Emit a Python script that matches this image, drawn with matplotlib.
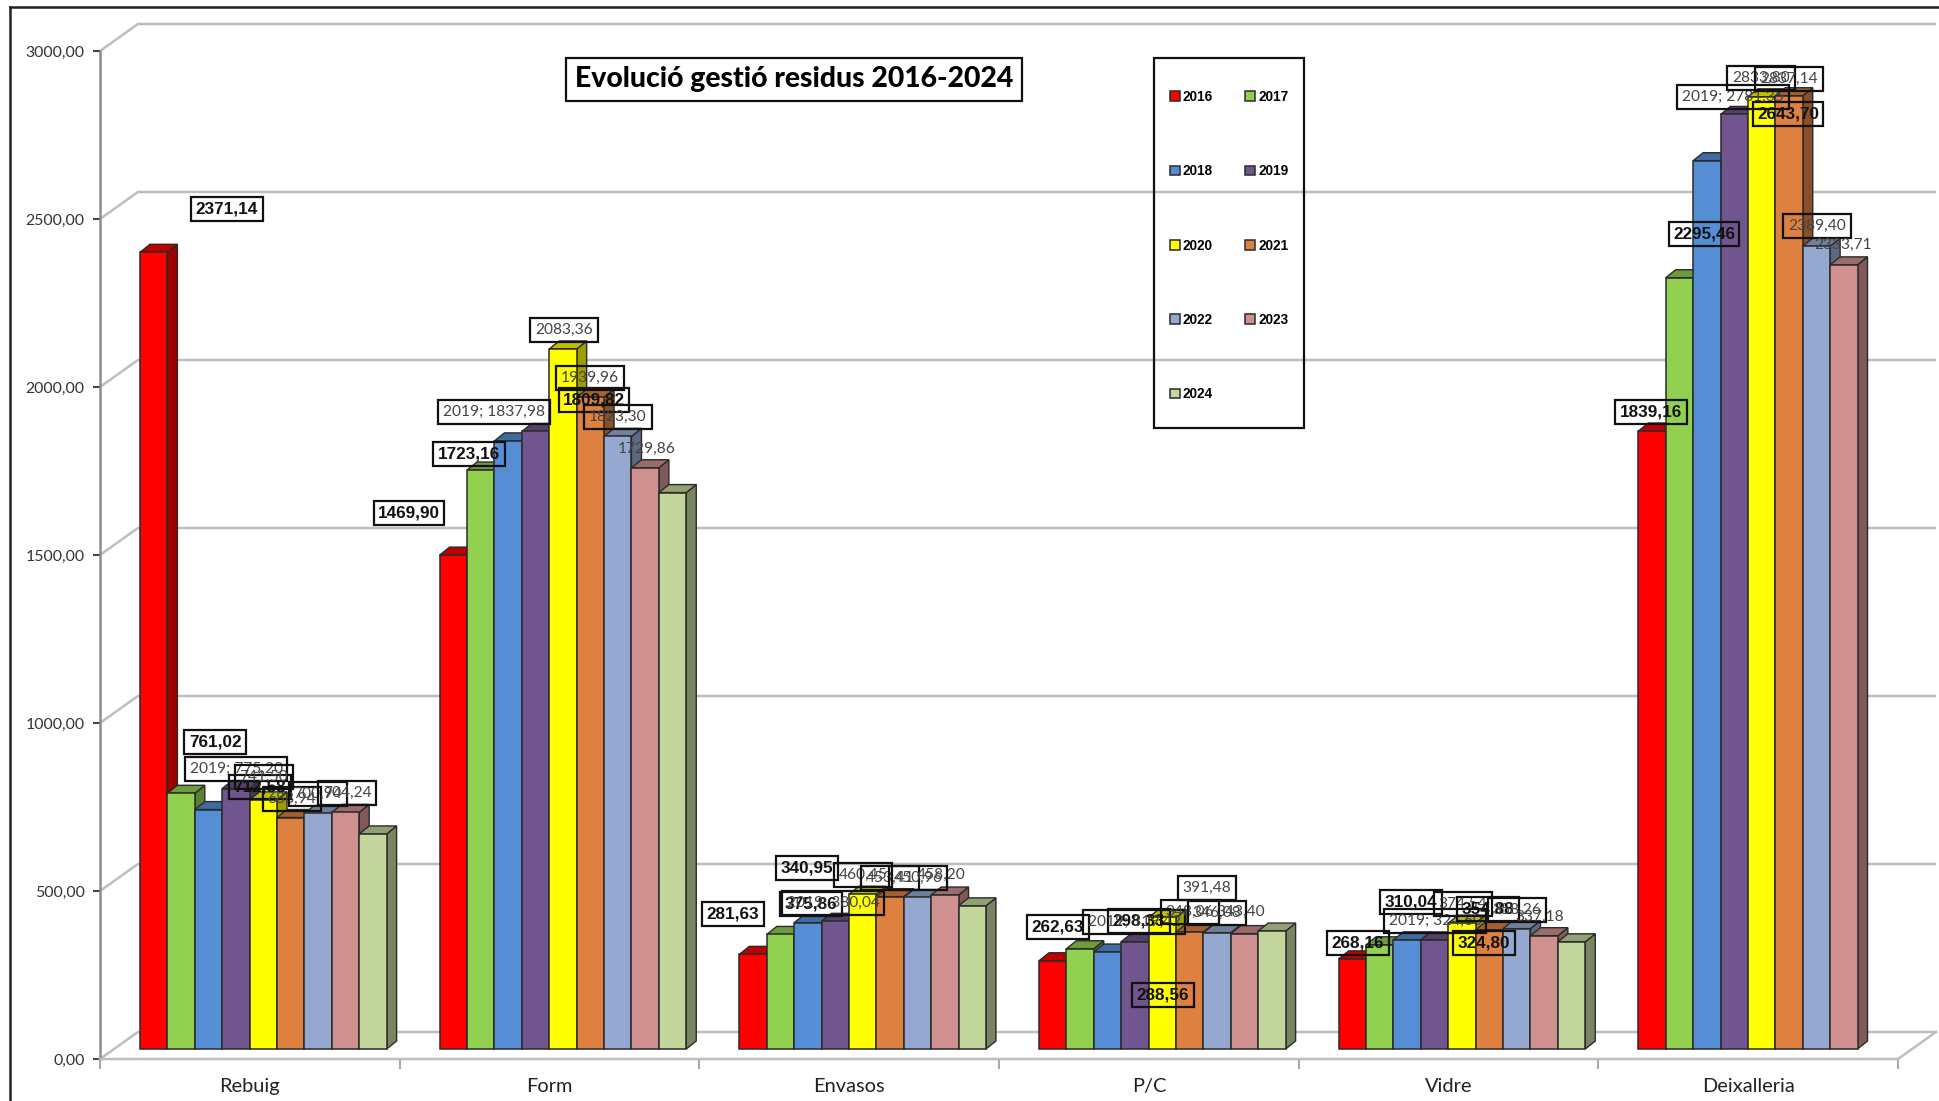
import matplotlib
matplotlib.use("Agg")
import matplotlib.pyplot as plt
from matplotlib.patches import Polygon, Rectangle
from matplotlib.lines import Line2D
from matplotlib.colors import to_rgb

W, H = 1939, 1101

categories = ["Rebuig", "Form", "Envasos", "P/C", "Vidre", "Deixalleria"]
years = ["2016", "2017", "2018", "2019", "2020", "2021", "2022", "2023", "2024"]

y2016 = [2371.14, 1469.90, 281.63, 262.63, 268.16, 1839.16]
y2017 = [761.02, 1723.16, 340.95, 298.33, 310.04, 2295.46]
y2018 = [712.58, 1809.82, 375.86, 288.56, 324.80, 2643.70]
y2019 = [775.20, 1837.98, 380.04, 319.42, 324.60, 2781.35]
y2020 = [741.50, 2083.36, 460.45, 391.48, 374.54, 2833.80]
y2021 = [688.94, 1939.96, 453.41, 348.06, 354.88, 2837.14]
y2022 = [700.94, 1823.30, 450.96, 346.08, 358.26, 2389.40]
y2023 = [704.24, 1729.86, 458.20, 343.40, 337.18, 2333.71]
y2024 = [640.00, 1656.00, 426.00, 351.00, 319.00, None]
series = [y2016, y2017, y2018, y2019, y2020, y2021, y2022, y2023, y2024]

colors = ["#FF0000", "#92D050", "#558ED5", "#71558F", "#FFFF00",
          "#DD8040", "#95A9D0", "#CF9090", "#C3D69B"]
yticks = [0, 500, 1000, 1500, 2000, 2500, 3000]

# label centres in figure pixels (from top-left), per category then per year 2016..2023
label_pos = [
    [(227, 209), (215, 742), (260, 787), (236, 769), (264, 777), (292, 799), (318, 794), (347, 793)],
    [(409, 513), (469, 454), (594, 400), (494, 412), (564, 330), (590, 378), (618, 417), (647, 449)],
    [(733, 914), (807, 868), (811, 904), (833, 903), (863, 875), (890, 878), (918, 878), (941, 875)],
    [(1058, 927), (1139, 921), (1163, 995), (1134, 922), (1207, 888), (1190, 912), (1217, 913), (1241, 912)],
    [(1358, 943), (1411, 902), (1484, 943), (1435, 921), (1463, 904), (1488, 909), (1517, 910), (1540, 917)],
    [(1651, 412), (1704, 234), (1788, 114), (1733, 97), (1761, 78), (1789, 79), (1817, 226), (1843, 245)],
]
bold_years = {0: [0, 1, 2], 1: [0, 1, 2], 2: [0, 1, 2], 3: [0, 1, 2], 4: [0, 1, 2, 5], 5: [0, 1, 2]}

plt.rcParams['font.family'] = ['Lato', 'DejaVu Sans']
fig = plt.figure(figsize=(W / 100, H / 100), dpi=100, facecolor='white')

AX_L, AX_R, AX_T, AX_B = 100, 1898, 51, 1059
ax = fig.add_axes([AX_L / W, 1 - AX_B / H, (AX_R - AX_L) / W, (AX_B - AX_T) / H])
ax.set_xlim(0, 6)
ax.set_ylim(0, 3000)
ax.patch.set_visible(False)
for s in ax.spines.values():
    s.set_visible(False)

PX_X = 6 / (AX_R - AX_L)       # data x units per pixel
PX_Y = 3000 / (AX_B - AX_T)    # data y units per pixel
GRID = "#BEBEBE"
WALL_DX, WALL_DY = 38 * PX_X, 27 * PX_Y
RIGHT_EDGE = 6 + WALL_DX

# walls and gridlines
for v in yticks:
    ax.plot([0, WALL_DX, RIGHT_EDGE], [v, v + WALL_DY, v + WALL_DY], color=GRID, lw=1.8,
            clip_on=False, zorder=1, solid_capstyle='butt')
ax.plot([0, 0], [0, 3000], color="#8C8C8C", lw=1.8, clip_on=False, zorder=2)
ax.plot([0, 6, 6 + WALL_DX], [0, 0, WALL_DY], color=GRID, lw=1.8, clip_on=False, zorder=2)

# ticks
ax.set_yticks(yticks)
ax.set_yticklabels([f"{v},00" for v in yticks], fontsize=11.4, color="#333333")
for t in ax.get_yticklabels():
    t.set_va('center_baseline')
ax.tick_params(axis='y', length=5, width=1.5, color="#444444", pad=6)
ax.set_xticks(range(7))
ax.set_xticks([k + 0.5 for k in range(6)], minor=True)
ax.set_xticklabels([""] * 7)
ax.set_xticklabels(categories, minor=True, fontsize=14.4, color="#222222")
ax.tick_params(axis='x', which='major', length=7, width=1.5, color="#AAAAAA")
ax.tick_params(axis='x', which='minor', length=0, pad=13.5)

# 3D bars
BAR_W = 27.4 * PX_X
START = 40 * PX_X
BASE = 10 * PX_Y
DX, DY = 10 * PX_X, 8 * PX_Y
EDGE = "#2A2A2A"


def shade(c, f):
    return tuple(x * f for x in to_rgb(c))


handles = []
for i, (vals, col) in enumerate(zip(series, colors)):
    xs, hs = [], []
    for k, v in enumerate(vals):
        if v is None:
            continue
        xs.append(k + START + (i + 0.5) * BAR_W)
        hs.append(v)
    for x, h in zip(xs, hs):
        l, r = x - BAR_W / 2, x + BAR_W / 2
        top = BASE + h
        z = 3 + i * 0.1
        ax.add_patch(Polygon([(r, BASE), (r + DX, BASE + DY), (r + DX, top + DY), (r, top)],
                             closed=True, fc=shade(col, 0.62), ec=EDGE, lw=1.0, zorder=z, clip_on=False))
        ax.add_patch(Polygon([(l, top), (l + DX, top + DY), (r + DX, top + DY), (r, top)],
                             closed=True, fc=shade(col, 0.75), ec=EDGE, lw=1.0, zorder=z, clip_on=False))
    bars = ax.bar(xs, hs, width=BAR_W, bottom=BASE, color=col, edgecolor=EDGE, lw=1.1,
                  zorder=3 + i * 0.1 + 0.01, label=years[i], clip_on=False)
    handles.append(bars)


def px(p):
    return p[0] / W, 1 - p[1] / H


# data labels
for k in range(6):
    for i in range(8):
        v = series[i][k]
        txt = f"{v:.2f}".replace(".", ",")
        if i == 3:
            txt = f"2019; {txt}"
        bold = i in bold_years[k]
        boxed = not (i == 7 and k != 0)
        pad = 0.26 if bold else 0.32
        kw = dict(bbox=dict(boxstyle=f"square,pad={pad}", fc="none", ec="#111111", lw=1.6)) if boxed else {}
        fig.text(*px(label_pos[k][i]), txt, ha='center', va='center', zorder=20,
                 fontsize=12.3 if bold else 11.2, fontweight='bold' if bold else 'normal',
                 color="#111111" if bold else "#444444",
                 family=['Liberation Sans', 'DejaVu Sans'] if bold else ['Lato', 'DejaVu Sans'], **kw)

# title
fig.text(*px((794, 79)), "Evolució gestió residus 2016-2024", ha='center', va='center', fontsize=20.4,
         fontweight='black', color="#000000", zorder=20,
         bbox=dict(boxstyle="square,pad=0.3", fc="white", ec="#111111", lw=1.6))

# legend: rows 2016 2017 / 2018 2019 ...
order = [0, 2, 4, 6, 8, 1, 3, 5, 7]
leg = ax.legend([handles[j] for j in order], [years[j] for j in order], ncol=2,
                loc='upper left', bbox_to_anchor=((1170 - AX_L) / (AX_R - AX_L), 1 - (90 - AX_T) / (AX_B - AX_T)),
                frameon=False,
                prop={'family': ['Liberation Sans'], 'weight': 'bold', 'size': 9.8},
                labelspacing=4.43, handlelength=0.7, handleheight=0.7, handletextpad=0.25,
                columnspacing=2.35, borderpad=0, borderaxespad=0)
leg.set_zorder(19)
fig.add_artist(Rectangle((1154 / W, 1 - 428 / H), 150 / W, 370 / H, transform=fig.transFigure,
                         fc="none", ec="#111111", lw=1.6, zorder=19))

# outer frame
fig.add_artist(Line2D([10 / W, 10 / W], [0, 1 - 7 / H], color="#222222", lw=1.8))
fig.add_artist(Line2D([10 / W, 1], [1 - 7 / H, 1 - 7 / H], color="#222222", lw=1.8))

fig.savefig("out.png", dpi=100)
